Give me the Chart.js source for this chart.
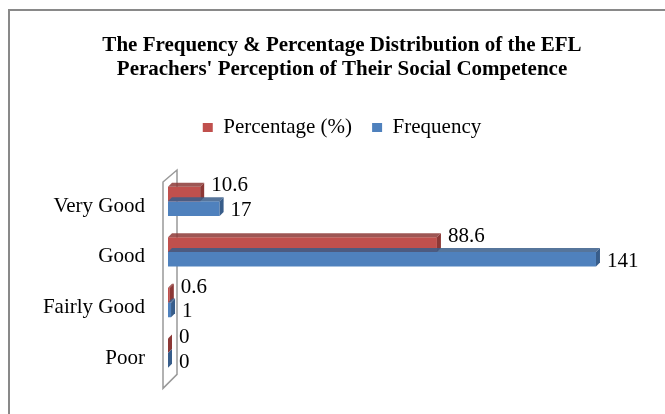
<!DOCTYPE html>
<html>
<head>
<meta charset="utf-8">
<script src="https://cdn.jsdelivr.net/npm/chart.js@4.4.1/dist/chart.umd.min.js"></script>
<style>
  html, body { margin: 0; padding: 0; background: #fff; overflow: hidden; }
  #wrap { width: 684px; height: 414px; position: relative; }
</style>
</head>
<body>
<div id="wrap"><canvas id="chart"></canvas></div>
<script>
'use strict';

var categories = ['Very Good', 'Good', 'Fairly Good', 'Poor'];
var percentValues = [10.6, 88.6, 0.6, 0];
var frequencyValues = [17, 141, 1, 0];
var seriesNames = ['Percentage (%)', 'Frequency'];

var RED = '#C0504D', RED_DARK = '#8C3836';
var BLUE = '#4F81BD', BLUE_DARK = '#385D8A';
var SERIF = '"Liberation Serif", "Times New Roman", serif';
var DEPTH = 4;

// outer frame of the chart object
var framePlugin = {
    id: 'frame',
    beforeDraw: function(chart) {
        var ctx = chart.ctx;
        ctx.save();
        ctx.strokeStyle = '#898989';
        ctx.lineWidth = 2;
        ctx.strokeRect(9, 10, 700, 500);
        ctx.restore();
    }
};

// thin 3D back wall behind the category axis
var wallPlugin = {
    id: 'wall',
    beforeDatasetsDraw: function(chart) {
        var a = chart.chartArea;
        var ctx = chart.ctx;
        var l = a.left - 5, r = a.left + 9;
        ctx.save();
        ctx.strokeStyle = '#999';
        ctx.lineWidth = 1.5;
        ctx.fillStyle = '#fff';
        ctx.beginPath();
        ctx.moveTo(l, a.top + 6);
        ctx.lineTo(r, a.top - 6);
        ctx.lineTo(r, a.bottom - 4);
        ctx.lineTo(l, a.bottom + 10);
        ctx.closePath();
        ctx.fill();
        ctx.stroke();
        ctx.restore();
    }
};

// darker top / end faces plus value labels
var bar3dPlugin = {
    id: 'bar3d',
    afterDatasetsDraw: function(chart) {
        var ctx = chart.ctx;
        var darks = [RED_DARK, BLUE_DARK];
        ctx.save();
        chart.data.datasets.forEach(function(ds, di) {
            var meta = chart.getDatasetMeta(di);
            meta.data.forEach(function(bar, i) {
                var top = bar.y - bar.height / 2;
                var bottom = bar.y + bar.height / 2;
                var x = bar.x, base = bar.base;
                ctx.fillStyle = darks[di];
                ctx.beginPath();
                ctx.moveTo(x, top);
                ctx.lineTo(x + DEPTH, top - DEPTH);
                ctx.lineTo(x + DEPTH, bottom - DEPTH);
                ctx.lineTo(x, bottom);
                ctx.closePath();
                ctx.fill();
                ctx.globalAlpha = 0.85;
                ctx.beginPath();
                ctx.moveTo(base, top);
                ctx.lineTo(base + DEPTH, top - DEPTH);
                ctx.lineTo(x + DEPTH, top - DEPTH);
                ctx.lineTo(x, top);
                ctx.closePath();
                ctx.fill();
                ctx.globalAlpha = 1;

                ctx.fillStyle = '#000';
                ctx.font = '21px ' + SERIF;
                ctx.textAlign = 'left';
                ctx.textBaseline = 'middle';
                var dy = di === 0 ? -8 : 2;
                ctx.fillText(String(ds.data[i]), x + 11, bar.y + dy);
            });
        });
        ctx.restore();
    }
};

// give the legend some room below it
var legendGapPlugin = {
    id: 'legendGap',
    beforeInit: function(chart) {
        var fit = chart.legend.fit;
        chart.legend.fit = function() {
            fit.bind(chart.legend)();
            this.height += 28;
        };
    }
};

new Chart(document.getElementById('chart'), {
    type: 'bar',
    data: {
        labels: categories,
        datasets: [{
            label: seriesNames[0],
            data: percentValues,
            backgroundColor: RED,
            borderWidth: 0
        }, {
            label: seriesNames[1],
            data: frequencyValues,
            backgroundColor: BLUE,
            borderWidth: 0
        }]
    },
    options: {
        indexAxis: 'y',
        responsive: true,
        maintainAspectRatio: false,
        animation: false,
        layout: { padding: { top: 22, bottom: 19, left: 0, right: 0 } },
        datasets: { bar: { categoryPercentage: 0.58, barPercentage: 1 } },
        scales: {
            x: {
                display: false,
                min: 0,
                max: 170
            },
            y: {
                grid: { display: false, drawTicks: false },
                border: { display: false },
                ticks: {
                    color: '#000',
                    font: { family: SERIF, size: 21 },
                    padding: 23,
                    labelOffset: 5
                },
                afterFit: function(scale) { scale.width = 168; }
            }
        },
        plugins: {
            title: {
                display: true,
                text: ['The Frequency & Percentage Distribution of the EFL',
                       "Perachers' Perception of Their Social Competence"],
                color: '#000',
                font: { family: SERIF, size: 21, weight: 'bold', lineHeight: 1.143 },
                padding: { top: 12, bottom: 15 }
            },
            legend: {
                position: 'top',
                labels: {
                    color: '#000',
                    font: { family: SERIF, size: 21 },
                    boxWidth: 10,
                    boxHeight: 9,
                    padding: 20
                }
            },
            tooltip: { enabled: false }
        }
    },
    plugins: [framePlugin, wallPlugin, bar3dPlugin, legendGapPlugin]
});
</script>
</body>
</html>
